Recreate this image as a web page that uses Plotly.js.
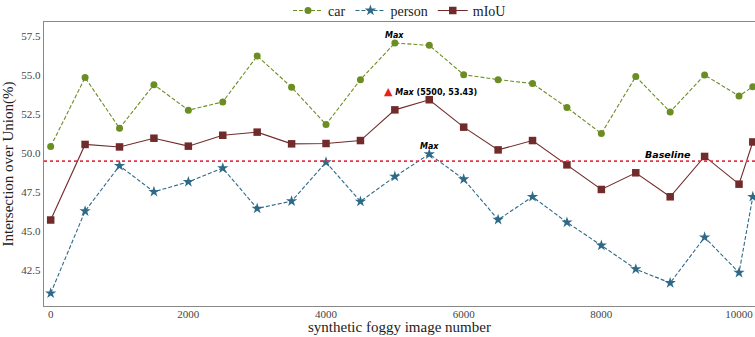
<!DOCTYPE html>
<html><head><meta charset="utf-8">
<script src="https://cdn.plot.ly/plotly-3.0.1.min.js"></script>
<style>html,body{margin:0;padding:0;background:#fff}#chart{width:755px;height:337px}</style>
</head><body><div id="chart"></div>
<script>
const xVals = [0,500,1000,1500,2000,2500,3000,3500,4000,4500,5000,5500,6000,6500,7000,7500,8000,8500,9000,9500,10000,10200];
const carVals = [50.43,54.85,51.60,54.40,52.76,53.29,56.24,54.23,51.84,54.72,57.07,56.92,55.04,54.72,54.47,52.93,51.26,54.92,52.65,55.02,53.67,54.27];
const personVals = [41.01,46.28,49.19,47.52,48.16,49.04,46.45,46.92,49.42,46.90,48.50,49.94,48.33,45.73,47.20,45.56,44.08,42.56,41.67,44.60,42.33,47.20];
const miouVals = [45.71,50.56,50.40,50.96,50.45,51.15,51.35,50.60,50.62,50.81,52.78,53.43,51.67,50.21,50.81,49.25,47.67,48.74,47.20,49.79,48.01,50.72];
const baseline = 49.49;
const yTicks = [42.5,45.0,47.5,50.0,52.5,55.0,57.5];
const xTicks = [0,2000,4000,6000,8000,10000];

const traces = [
  {x:xVals,y:carVals,name:'car',mode:'lines+markers',
   line:{color:'#6b8e23',width:1.1,dash:'4px,2px'},marker:{symbol:'circle',size:7,color:'#6b8e23'}},
  {x:xVals,y:personVals,name:'person',mode:'lines+markers',
   line:{color:'#2e6a88',width:1.1,dash:'4px,2px'},marker:{symbol:'star',size:8.5,color:'#2e6a88'}},
  {x:xVals,y:miouVals,name:'mIoU',mode:'lines+markers',
   line:{color:'#722b2b',width:1.1},marker:{symbol:'square',size:7.5,color:'#722b2b'}}
];

const annFont = {family:'DejaVu Sans',size:8,color:'#000',weight:'bold',style:'italic'};
const layout = {
  width:755,height:337,
  margin:{l:44,r:0,t:22,b:31,autoexpand:false},
  paper_bgcolor:'#fff',plot_bgcolor:'#fff',
  font:{family:'Liberation Serif',color:'#333'},
  showlegend:true,
  legend:{orientation:'h',x:0.5,xanchor:'center',y:0.983,yanchor:'bottom',bgcolor:'rgba(255,255,255,0)',
    font:{family:'Liberation Serif',size:14,color:'#222'},itemwidth:30,tracegroupgap:0},
  xaxis:{range:[-97,10232],tickvals:xTicks,ticktext:xTicks.map(String),
    showgrid:false,zeroline:false,showline:true,linecolor:'#888',linewidth:1.2,mirror:true,
    ticks:'',ticklabelstandoff:-2,
    tickfont:{family:'Liberation Serif',size:11,color:'#444'}},
  yaxis:{range:[40.19,58.42],tickvals:yTicks,ticktext:yTicks.map(v=>v.toFixed(1)),
    showgrid:false,zeroline:false,showline:true,linecolor:'#888',linewidth:1.2,mirror:true,
    ticks:'',tickfont:{family:'Liberation Serif',size:11,color:'#444'},
    title:{text:'Intersection over Union(%)',font:{family:'Liberation Serif',size:15,color:'#222'},standoff:8}},
  shapes:[{type:'line',xref:'paper',x0:0,x1:1,yref:'y',y0:baseline,y1:baseline,
    line:{color:'#e8344a',width:1.8,dash:'dot'}}],
  annotations:[
    {xref:'paper',yref:'paper',x:0.5,y:0,yshift:-21,yanchor:'middle',text:'synthetic foggy image number',showarrow:false,
     font:{family:'Liberation Serif',size:15,color:'#222'}},
    {x:5000,y:carVals[10],text:'Max',showarrow:false,yshift:8,font:annFont},
    {x:5500,y:personVals[11],text:'Max',showarrow:false,yshift:8,font:annFont},
    {x:8970,y:baseline,text:'Baseline',showarrow:false,yshift:7,font:{family:'DejaVu Sans',size:9.5,color:'#000',weight:'bold',style:'italic'}},
    {x:4903,y:53.93,text:'<span style="color:#e8231f;font-size:11px;font-style:normal">▲</span> Max <span style="font-style:normal">(5500, 53.43)</span>',
     showarrow:false,xanchor:'left',xshift:-6,font:annFont}
  ]
};
Plotly.newPlot('chart',traces,layout,{displayModeBar:false,staticPlot:true});
</script></body></html>
